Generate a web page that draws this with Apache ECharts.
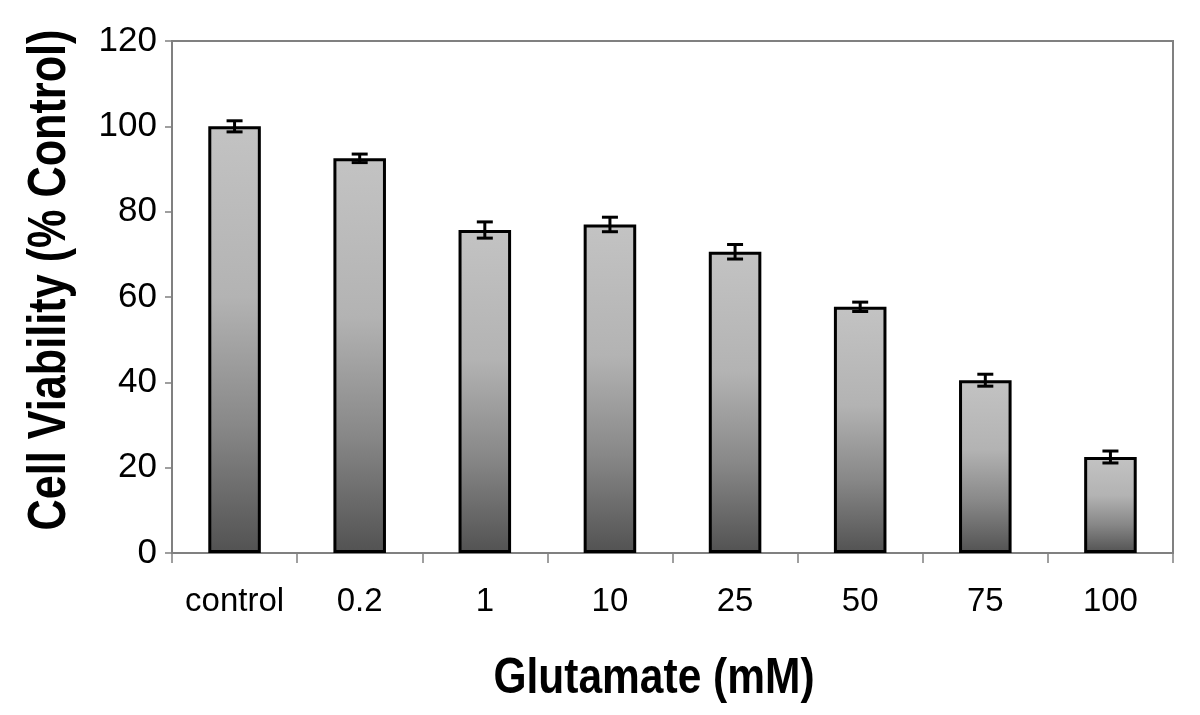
<!DOCTYPE html>
<html>
<head>
<meta charset="utf-8">
<script src="https://cdn.jsdelivr.net/npm/echarts@6/dist/echarts.min.js"></script>
<style>html,body{margin:0;padding:0;background:#fff}#c{width:1200px;height:715px}</style>
</head>
<body>
<div id="c"></div>
<script>
const categories = ['control', '0.2', '1', '10', '25', '50', '75', '100'];
const viability = [100, 92.5, 75.7, 77.0, 70.6, 57.7, 40.5, 22.5];
const errors = [1.3, 1.0, 1.9, 1.7, 1.7, 1.1, 1.4, 1.4];
const yTicks = [0, 20, 40, 60, 80, 100, 120];
const xTitle = 'Glutamate (mM)';
const yTitle = 'Cell Viability (% Control)';

const chart = echarts.init(document.getElementById('c'));
const errData = categories.map((c, i) => [i, viability[i] - errors[i], viability[i] + errors[i]]);
const font = '"Liberation Sans", Arial, Helvetica, sans-serif';

chart.setOption({
  animation: false,
  backgroundColor: '#fff',
  grid: { left: 172, right: 27, top: 41, bottom: 162, show: true, borderColor: '#808080', borderWidth: 2 },
  xAxis: {
    type: 'category',
    data: categories,
    axisLine: { lineStyle: { color: '#808080', width: 2 } },
    axisTick: { show: true, interval: 0, length: 10, lineStyle: { color: '#808080', width: 1.5 } },
    axisLabel: { interval: 0, hideOverlap: false, color: '#000', fontSize: 33, fontFamily: font, margin: 32 }
  },
  yAxis: {
    type: 'value',
    min: yTicks[0], max: yTicks[yTicks.length - 1], interval: 20,
    axisLine: { show: true, lineStyle: { color: '#808080', width: 2 } },
    axisTick: { show: true, length: 7, lineStyle: { color: '#808080', width: 1.5 } },
    splitLine: { show: false },
    axisLabel: { color: '#000', fontSize: 35, fontFamily: font, margin: 15 }
  },
  graphic: [
    { type: 'text', position: [654, 679], scaleX: 0.85, style: { text: xTitle, x: 0, y: 0, fill: '#000', font: 'bold 50px ' + font, textAlign: 'center', textVerticalAlign: 'middle' } },
    { type: 'text', position: [50, 280], rotation: Math.PI / 2, scaleX: 0.8, style: { text: yTitle, x: 0, y: 0, fill: '#000', font: 'bold 54px ' + font, textAlign: 'center', textVerticalAlign: 'middle' } }
  ],
  series: [
    {
      type: 'bar',
      data: viability,
      barWidth: '42%',
      itemStyle: {
        borderColor: '#000', borderWidth: 3,
        color: new echarts.graphic.LinearGradient(0, 0, 0, 1, [
          { offset: 0, color: '#c3c3c3' },
          { offset: 0.4, color: '#b3b3b3' },
          { offset: 0.7, color: '#888888' },
          { offset: 1, color: '#525252' }
        ])
      },
      z: 2
    },
    {
      type: 'custom',
      data: errData,
      z: 5,
      renderItem: function (params, api) {
        const x = api.value(0);
        const lo = api.coord([x, api.value(1)]);
        const hi = api.coord([x, api.value(2)]);
        const cw = 8;
        const st = { stroke: '#000', lineWidth: 3 };
        return {
          type: 'group',
          children: [
            { type: 'line', shape: { x1: lo[0], y1: lo[1], x2: hi[0], y2: hi[1] }, style: st },
            { type: 'line', shape: { x1: lo[0] - cw, y1: lo[1], x2: lo[0] + cw, y2: lo[1] }, style: st },
            { type: 'line', shape: { x1: hi[0] - cw, y1: hi[1], x2: hi[0] + cw, y2: hi[1] }, style: st }
          ]
        };
      }
    }
  ]
});
</script>
</body>
</html>
